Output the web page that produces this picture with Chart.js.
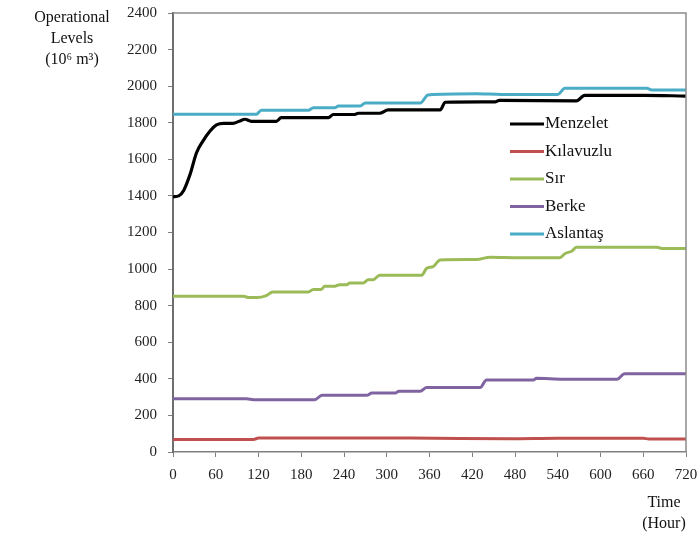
<!DOCTYPE html>
<html>
<head>
<meta charset="utf-8">
<script src="https://cdn.jsdelivr.net/npm/chart.js@4.4.0/dist/chart.umd.min.js"></script>
<style>
  html, body { margin: 0; padding: 0; background: #fff; }
  #wrap { width: 700px; height: 536px; position: relative; }
</style>
</head>
<body>
<div id="wrap"><canvas id="levels"></canvas></div>
<script>
// hours and storage levels (10^6 m3)
const menzeletHours = [0, 8, 15, 24, 33, 42, 52, 61, 71, 84, 94, 101, 110, 145, 152, 218, 225, 255, 260, 290, 302, 375, 382, 452, 458, 566, 578, 660, 720];
const menzeletLevels = [1395, 1400, 1430, 1518, 1636, 1700, 1755, 1788, 1797, 1797, 1810, 1819, 1808, 1808, 1828, 1828, 1845, 1845, 1852, 1852, 1870, 1870, 1912, 1914, 1922, 1920, 1950, 1950, 1946];

const kilavuzluHours = [0, 113, 120, 333, 473, 539, 660, 668, 720];
const kilavuzluLevels = [69, 69, 76, 76, 72, 75, 75, 71, 71];

const sirHours = [0, 99, 107, 118, 131, 140, 190, 197, 208, 213, 227, 234, 244, 248, 267, 274, 281, 290, 349, 356, 365, 375, 426, 445, 487, 543, 550, 560, 566, 679, 686, 720];
const sirLevels = [851, 851, 844, 844, 855, 875, 875, 889, 889, 906, 906, 915, 915, 924, 924, 942, 942, 966, 966, 1004, 1013, 1050, 1052, 1065, 1062, 1062, 1084, 1099, 1120, 1120, 1113, 1113];

const berkeHours = [0, 103, 113, 199, 209, 272, 279, 312, 317, 347, 356, 431, 440, 506, 510, 548, 623, 634, 720];
const berkeLevels = [291, 291, 286, 286, 310, 310, 322, 322, 332, 332, 352, 352, 394, 394, 403, 398, 398, 428, 428];

const aslantasHours = [0, 117, 124, 190, 197, 227, 232, 262, 270, 347, 358, 426, 461, 540, 550, 665, 672, 720];
const aslantasLevels = [1846, 1846, 1868, 1868, 1882, 1882, 1891, 1891, 1908, 1908, 1952, 1958, 1955, 1955, 1988, 1988, 1979, 1979];

const xTicks = [0, 60, 120, 180, 240, 300, 360, 420, 480, 540, 600, 660, 720];
const yTicks = [0, 200, 400, 600, 800, 1000, 1200, 1400, 1600, 1800, 2000, 2200, 2400];

const serif = '"Liberation Serif", "Times New Roman", serif';

function pts(hours, vals) {
  return hours.map((h, i) => ({ x: h, y: vals[i] }));
}

function series(label, hours, vals, color, width) {
  return {
    label: label,
    data: pts(hours, vals),
    borderColor: color,
    backgroundColor: color,
    borderWidth: width,
    pointRadius: 0,
    cubicInterpolationMode: 'monotone',
    fill: false
  };
}

// box round the plot + legend + free text labels
const extras = {
  id: 'extras',
  afterDraw(chart) {
    const ctx = chart.ctx;
    const a = chart.chartArea;
    ctx.save();
    ctx.strokeStyle = '#8c8c8c';
    ctx.lineWidth = 1.5;
    ctx.beginPath();
    ctx.moveTo(a.left, a.top);
    ctx.lineTo(a.right, a.top);
    ctx.lineTo(a.right, a.bottom);
    ctx.stroke();

    // legend
    ctx.font = '17px ' + serif;
    ctx.textBaseline = 'middle';
    ctx.textAlign = 'left';
    chart.data.datasets.forEach((ds, i) => {
      const y = 124 + i * 27.5;
      ctx.strokeStyle = ds.borderColor;
      ctx.lineWidth = 3;
      ctx.beginPath();
      ctx.moveTo(510, y);
      ctx.lineTo(544, y);
      ctx.stroke();
      ctx.fillStyle = '#111';
      ctx.fillText(ds.label, 545, y);
    });

    ctx.font = '16px ' + serif;
    ctx.textAlign = 'center';
    ctx.fillStyle = '#111';
    ctx.fillText('Operational', 72, 18);
    ctx.fillText('Levels', 72, 39);
    ctx.fillText('(10\u2076 m\u00b3)', 72, 60);
    ctx.fillText('Time', 664, 503);
    ctx.fillText('(Hour)', 664, 524);
    ctx.restore();
  }
};

new Chart(document.getElementById('levels'), {
  type: 'line',
  data: {
    datasets: [
      series('Menzelet', menzeletHours, menzeletLevels, '#000000', 3.2),
      series('Kılavuzlu', kilavuzluHours, kilavuzluLevels, '#c0504d', 3),
      series('Sır', sirHours, sirLevels, '#9bbb59', 3),
      series('Berke', berkeHours, berkeLevels, '#8064a2', 3),
      series('Aslantaş', aslantasHours, aslantasLevels, '#4bacc6', 3)
    ]
  },
  options: {
    responsive: true,
    maintainAspectRatio: false,
    animation: false,
    layout: { padding: { top: 13, right: 14, left: 0, bottom: 0 } },
    plugins: {
      legend: { display: false },
      tooltip: { enabled: false }
    },
    scales: {
      x: {
        type: 'linear',
        min: 0,
        max: 720,
        afterBuildTicks: s => { s.ticks = xTicks.map(v => ({ value: v })); },
        afterFit: s => { s.height = 84; s.paddingLeft = 0; s.paddingRight = 0; },
        border: { color: '#808080', width: 1.5 },
        grid: { drawOnChartArea: false, tickLength: 5, color: '#808080' },
        ticks: { color: '#222', padding: 9, font: { family: serif, size: 15 }, callback: v => String(v) }
      },
      y: {
        min: 0,
        max: 2400,
        afterBuildTicks: s => { s.ticks = yTicks.map(v => ({ value: v })); },
        afterFit: s => { s.width = 173; s.paddingTop = 0; s.paddingBottom = 0; },
        border: { color: '#6e6e6e', width: 2 },
        grid: { drawOnChartArea: false, tickLength: 5, color: '#808080' },
        ticks: { color: '#222', padding: 11, font: { family: serif, size: 15 }, callback: v => String(v) }
      }
    }
  },
  plugins: [extras]
});
</script>
</body>
</html>
